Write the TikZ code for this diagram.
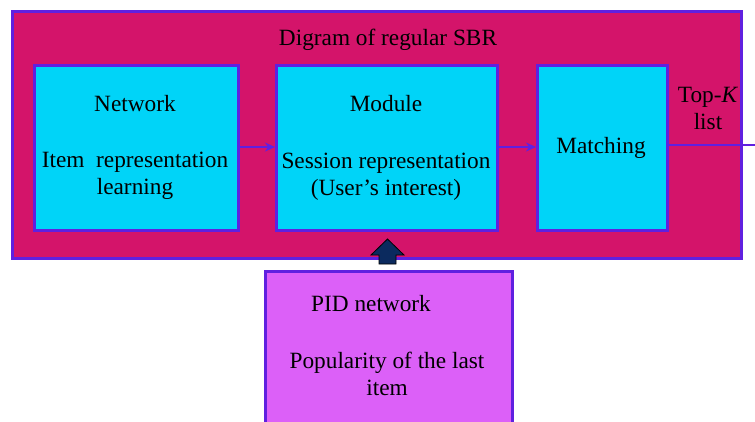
\documentclass[tikz,border=0pt]{standalone}
\usepackage{fontspec}
\setmainfont{Liberation Serif}
\usetikzlibrary{arrows.meta}
\definecolor{outerfill}{HTML}{D4146A}
\definecolor{innerfill}{HTML}{00D4F8}
\definecolor{edgecol}{HTML}{6020E0}
\definecolor{pidfill}{HTML}{DC60F8}
\definecolor{navy}{HTML}{0B2A5E}
\tikzset{
  box/.style={draw=edgecol, line width=3pt, inner sep=0pt},
  lbl/.style={font=\fontsize{23.3}{27}\selectfont, align=center, inner sep=0pt},
  conn/.style={draw=edgecol, line width=2pt, -{Stealth[length=10pt,width=9pt]}},
}
\begin{document}
\begin{tikzpicture}[x=1pt,y=-1pt]
\useasboundingbox (0,0) rectangle (755,421);
% outer
\draw[box, fill=outerfill] (12,11) rectangle (741,258);
\node[box, fill=innerfill, minimum width=204, minimum height=165, anchor=north west] (net) at (33,64) {};
\node[box, fill=innerfill, minimum width=221, minimum height=165, anchor=north west] (mod) at (275,64) {};
\node[box, fill=innerfill, minimum width=130, minimum height=165, anchor=north west] (mat) at (536,64) {};
\node[box, fill=pidfill, minimum width=247, minimum height=152, anchor=north west] (pid) at (264,270) {};
% texts
\node[lbl] (title) at (388,40) {Digram of regular SBR};
\node[lbl] (t1) at (135,104) {Network};
\node[lbl] (t2) at (135,176) {Item~~representation\\learning};
\node[lbl] (t3) at (386,104) {Module};
\node[lbl] (t4) at (386,177) {Session representation\\(User's interest)};
\node[lbl] (t5) at (601,148) {Matching};
\node[lbl] (t6) at (708,108) {Top-\textit{K}\\list};
\node[lbl] (t7) at (371,304) {PID network};
\node[lbl] (t8) at (387,374) {Popularity of the last\\item};
% connectors
\coordinate (outend) at (755,145);
\draw[conn] (net.east |- 0,147) -- (mod.west |- 0,147);
\draw[conn] (mod.east |- 0,147) -- (mat.west |- 0,147);
\draw[draw=edgecol, line width=2pt] (mat.east |- 0,145) -- (outend);
% block arrow
\draw[fill=navy, draw=black, line width=0.8pt]
  (387.5,239) -- (404,255) -- (396,255) -- (396,264) -- (379,264) -- (379,255) -- (371,255) -- cycle;
\end{tikzpicture}
\end{document}
